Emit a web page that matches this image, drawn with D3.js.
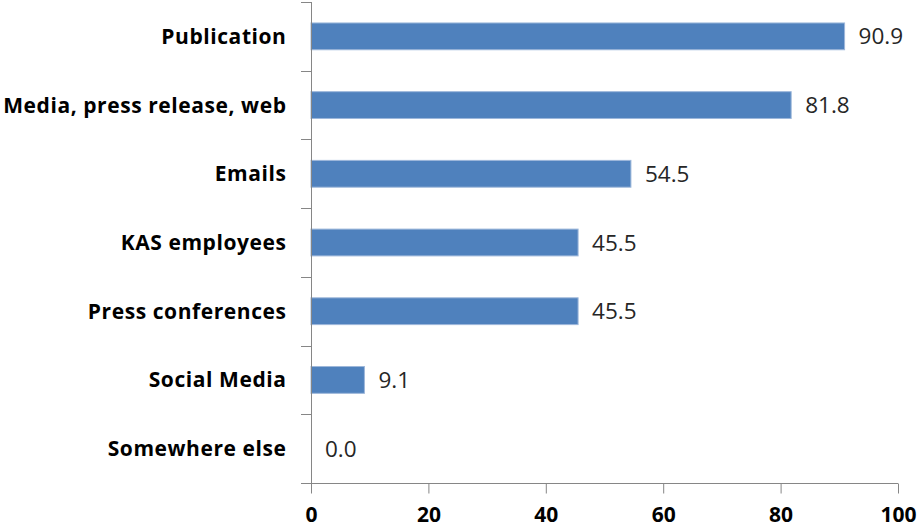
<!DOCTYPE html>
<html><head><meta charset="utf-8">
<script src="https://cdn.jsdelivr.net/npm/d3@7"></script>
<style>body{margin:0;background:#fff}</style>
</head><body><svg id="c" width="919" height="528"></svg>
<script>
const categories = ["Publication","Media, press release, web","Emails","KAS employees","Press conferences","Social Media","Somewhere else"];
const values = [90.9, 81.8, 54.5, 45.5, 45.5, 9.1, 0.0];
const xTicks = [0,20,40,60,80,100];

const svg = d3.select("#c");
const FONT = "'Open Sans', sans-serif";
const x = d3.scaleLinear().domain([0,100]).range([311,898]);
const y = d3.scaleBand().domain(categories).range([2,483]).paddingInner(0.61).paddingOuter(0.305);
const axisColor = "#868686";

// bars
svg.selectAll("rect.bar").data(values).join("rect")
  .attr("x", x(0)).attr("y", (d,i)=>y(categories[i]))
  .attr("width", d=>x(d)-x(0)).attr("height", y.bandwidth())
  .attr("fill","#4F81BD").attr("stroke","#9DB7DA").attr("stroke-width",1);

// value labels
svg.selectAll("text.val").data(values).join("text")
  .attr("x", d=>x(d)+14).attr("y",(d,i)=>y(categories[i])+y.bandwidth()/2)
  .attr("dy","0.36em").attr("font-family",FONT)
  .attr("font-size",22.5).attr("fill","#262626").text(d=>d.toFixed(1));

// y axis
const yAxisG = svg.append("g");
yAxisG.append("line").attr("x1",311.5).attr("x2",311.5).attr("y1",2).attr("y2",483).attr("stroke",axisColor);
for (let i=0;i<=categories.length;i++){
  const yy = Math.round(2 + i*(481/categories.length))+0.5;
  yAxisG.append("line").attr("x1",301).attr("x2",311).attr("y1",yy).attr("y2",yy).attr("stroke",axisColor);
}
svg.selectAll("text.cat").data(categories).join("text")
  .attr("x",286.5).attr("y",d=>y(d)+y.bandwidth()/2).attr("dy","0.36em")
  .attr("text-anchor","end").attr("font-family",FONT)
  .attr("font-weight","bold").attr("font-size",21).attr("letter-spacing",0.57)
  .attr("fill","#000").text(d=>d);

// x axis
const xAxisG = svg.append("g").attr("transform","translate(0,483.5)")
  .call(d3.axisBottom(x).tickValues(xTicks).tickSize(10).tickPadding(14).tickSizeOuter(0));
xAxisG.select(".domain").attr("stroke",axisColor).attr("d","M301,0H898");
xAxisG.selectAll(".tick line").attr("stroke",axisColor);
xAxisG.selectAll(".tick text").attr("font-family",FONT)
  .attr("font-weight","bold").attr("font-size",21).attr("fill","#000");
</script></body></html>
